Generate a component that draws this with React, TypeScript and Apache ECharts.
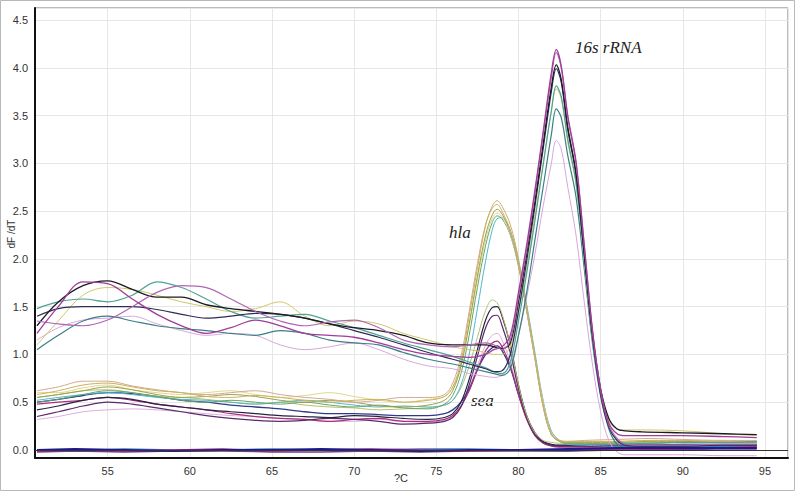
import React, { useEffect, useRef } from "react";
import * as echarts from "echarts";

// Temperature grids (°C)
const xHigh = [50.7, 52, 53.5, 55, 56.5, 58, 59.5, 61, 62.5, 64, 65.5, 67, 68.5, 70, 71.5, 73, 74.5, 76, 77, 78, 78.5, 79, 79.5, 80, 80.5, 81, 81.5, 82, 82.3, 82.6, 83, 83.5, 84, 84.5, 85, 85.5, 86, 86.5, 87.5, 90, 92.5, 94.5];
const xLow = [50.7, 52, 53.5, 55, 56.5, 58, 59.5, 61, 62.5, 64, 65.5, 67, 68.5, 70, 71.5, 73, 74.5, 75.5, 76, 76.5, 77, 77.5, 78, 78.4, 78.7, 79, 79.5, 80, 80.5, 81, 81.5, 82, 82.5, 83, 84, 86, 88, 90, 92.5, 94.5];
const xZero = [50.7, 53, 56, 59, 62, 65, 68, 71, 74, 77, 80, 83, 86, 89, 92, 94.5];

// 16s rRNA curves (dF/dT)
const s16a = [1.22, 1.5, 1.76, 1.74, 1.58, 1.42, 1.3, 1.22, 1.28, 1.36, 1.3, 1.22, 1.2, 1.18, 1.12, 1.05, 1.0, 0.98, 0.97, 1.0, 1.05, 1.08, 1.2, 1.65, 2.15, 2.72, 3.33, 3.95, 4.19, 4.02, 3.5, 3.02, 2.15, 1.26, 0.63, 0.28, 0.17, 0.15, 0.15, 0.15, 0.14, 0.13];
const s16b = [1.35, 1.32, 1.3, 1.36, 1.5, 1.65, 1.72, 1.7, 1.58, 1.45, 1.35, 1.3, 1.34, 1.36, 1.28, 1.15, 1.1, 1.08, 1.1, 1.12, 1.1, 1.05, 1.15, 1.6, 2.1, 2.68, 3.3, 3.9, 4.16, 4.0, 3.48, 3.0, 2.14, 1.25, 0.62, 0.26, 0.12, 0.06, 0.05, 0.05, 0.06, 0.06];
const s16c = [1.3, 1.55, 1.72, 1.77, 1.68, 1.6, 1.6, 1.52, 1.48, 1.45, 1.42, 1.38, 1.32, 1.28, 1.25, 1.2, 1.12, 1.1, 1.1, 1.1, 1.08, 1.06, 1.12, 1.55, 2.05, 2.6, 3.2, 3.8, 4.03, 3.88, 3.38, 2.9, 2.06, 1.22, 0.64, 0.33, 0.22, 0.2, 0.19, 0.18, 0.17, 0.16];
const s16d = [1.4, 1.48, 1.5, 1.5, 1.5, 1.47, 1.42, 1.38, 1.4, 1.43, 1.42, 1.38, 1.32, 1.25, 1.18, 1.1, 1.02, 0.95, 0.9, 0.85, 0.82, 0.83, 1.0, 1.45, 1.98, 2.55, 3.15, 3.75, 3.99, 3.85, 3.35, 2.88, 2.05, 1.2, 0.58, 0.24, 0.1, 0.05, 0.04, 0.04, 0.05, 0.05];
const s16e = [1.48, 1.55, 1.58, 1.55, 1.62, 1.76, 1.7, 1.58, 1.45, 1.38, 1.4, 1.42, 1.35, 1.28, 1.2, 1.12, 1.05, 0.98, 0.92, 0.86, 0.82, 0.8, 0.92, 1.35, 1.85, 2.4, 2.98, 3.55, 3.81, 3.7, 3.25, 2.8, 2.0, 1.18, 0.6, 0.25, 0.1, 0.07, 0.07, 0.08, 0.08, 0.09];
const s16f = [1.1, 1.35, 1.62, 1.7, 1.68, 1.62, 1.55, 1.5, 1.45, 1.48, 1.55, 1.4, 1.3, 1.35, 1.32, 1.22, 1.15, 1.08, 1.05, 1.02, 1.0, 1.0, 1.08, 1.45, 1.9, 2.45, 3.0, 3.55, 3.78, 3.68, 3.22, 2.78, 1.98, 1.18, 0.62, 0.3, 0.22, 0.21, 0.21, 0.2, 0.17, 0.15];
const s16g = [1.05, 1.2, 1.35, 1.4, 1.35, 1.3, 1.27, 1.25, 1.22, 1.2, 1.25, 1.22, 1.15, 1.12, 1.1, 1.02, 0.95, 0.9, 0.86, 0.82, 0.8, 0.78, 0.85, 1.2, 1.65, 2.2, 2.75, 3.3, 3.57, 3.48, 3.08, 2.65, 1.9, 1.12, 0.56, 0.22, 0.06, 0.03, 0.03, 0.04, 0.04, 0.05];
const s16h = [1.15, 1.28, 1.36, 1.38, 1.4, 1.32, 1.25, 1.2, 1.22, 1.2, 1.1, 1.05, 1.08, 1.12, 1.05, 0.95, 0.88, 0.85, 0.8, 0.77, 0.76, 0.78, 0.9, 1.2, 1.6, 2.05, 2.55, 3.0, 3.24, 3.15, 2.75, 2.25, 1.55, 0.9, 0.4, 0.1, -0.02, -0.05, -0.05, -0.05, -0.06, -0.06];

// hla curves
const hlaA = [0.58, 0.62, 0.68, 0.7, 0.66, 0.62, 0.6, 0.56, 0.55, 0.57, 0.55, 0.52, 0.5, 0.52, 0.53, 0.5, 0.52, 0.56, 0.66, 0.92, 1.4, 1.9, 2.35, 2.55, 2.61, 2.55, 2.36, 2.0, 1.5, 0.98, 0.47, 0.17, 0.1, 0.09, 0.09, 0.09, 0.1, 0.1, 0.09, 0.09];
const hlaB = [0.62, 0.66, 0.72, 0.72, 0.67, 0.63, 0.6, 0.58, 0.6, 0.62, 0.58, 0.55, 0.53, 0.5, 0.52, 0.55, 0.55, 0.58, 0.7, 0.98, 1.45, 1.95, 2.36, 2.53, 2.57, 2.5, 2.3, 1.95, 1.45, 0.95, 0.45, 0.16, 0.1, 0.09, 0.1, 0.11, 0.12, 0.11, 0.1, 0.1];
const hlaC = [0.55, 0.58, 0.62, 0.66, 0.63, 0.58, 0.55, 0.56, 0.58, 0.56, 0.52, 0.5, 0.52, 0.5, 0.46, 0.45, 0.47, 0.52, 0.62, 0.88, 1.32, 1.82, 2.25, 2.46, 2.52, 2.47, 2.28, 1.94, 1.46, 0.96, 0.46, 0.16, 0.09, 0.08, 0.08, 0.08, 0.09, 0.09, 0.08, 0.08];
const hlaD = [0.6, 0.6, 0.65, 0.68, 0.63, 0.6, 0.58, 0.6, 0.62, 0.58, 0.55, 0.57, 0.6, 0.56, 0.52, 0.5, 0.53, 0.56, 0.65, 0.88, 1.3, 1.78, 2.2, 2.42, 2.48, 2.44, 2.26, 1.93, 1.47, 0.98, 0.5, 0.18, 0.1, 0.08, 0.08, 0.09, 0.1, 0.1, 0.1, 0.09];
const hlaE = [0.5, 0.53, 0.58, 0.62, 0.6, 0.56, 0.52, 0.5, 0.52, 0.5, 0.48, 0.5, 0.47, 0.45, 0.47, 0.44, 0.43, 0.48, 0.57, 0.8, 1.2, 1.7, 2.14, 2.38, 2.45, 2.42, 2.25, 1.92, 1.46, 0.97, 0.48, 0.17, 0.09, 0.07, 0.07, 0.07, 0.07, 0.08, 0.08, 0.08];
const hlaF = [0.52, 0.55, 0.58, 0.6, 0.58, 0.55, 0.53, 0.52, 0.5, 0.48, 0.5, 0.52, 0.5, 0.47, 0.45, 0.46, 0.45, 0.47, 0.52, 0.68, 1.0, 1.48, 1.98, 2.3, 2.42, 2.43, 2.3, 1.98, 1.52, 1.02, 0.52, 0.2, 0.1, 0.06, 0.05, 0.04, 0.05, 0.05, 0.05, 0.05];

// sea curves
const seaA = [0.55, 0.58, 0.62, 0.63, 0.6, 0.56, 0.55, 0.53, 0.5, 0.48, 0.5, 0.47, 0.45, 0.44, 0.42, 0.43, 0.44, 0.47, 0.52, 0.65, 0.88, 1.18, 1.46, 1.57, 1.54, 1.42, 1.1, 0.68, 0.36, 0.18, 0.1, 0.08, 0.07, 0.07, 0.07, 0.07, 0.08, 0.08, 0.08, 0.08];
const seaB = [0.42, 0.46, 0.52, 0.55, 0.53, 0.48, 0.45, 0.42, 0.4, 0.38, 0.36, 0.35, 0.34, 0.36, 0.35, 0.33, 0.32, 0.34, 0.38, 0.5, 0.74, 1.05, 1.36, 1.49, 1.5, 1.4, 1.1, 0.68, 0.36, 0.18, 0.09, 0.06, 0.05, 0.05, 0.05, 0.05, 0.05, 0.06, 0.06, 0.06];
const seaC = [0.35, 0.4, 0.46, 0.5, 0.48, 0.44, 0.4, 0.36, 0.33, 0.31, 0.3, 0.31, 0.33, 0.32, 0.3, 0.27, 0.28, 0.3, 0.34, 0.45, 0.68, 0.98, 1.28, 1.4, 1.41, 1.3, 1.02, 0.64, 0.34, 0.16, 0.08, 0.05, 0.04, 0.04, 0.04, 0.04, 0.04, 0.05, 0.05, 0.05];
const seaD = [0.32, 0.35, 0.4, 0.42, 0.43, 0.42, 0.4, 0.38, 0.36, 0.35, 0.33, 0.32, 0.3, 0.3, 0.32, 0.3, 0.29, 0.31, 0.35, 0.45, 0.64, 0.88, 1.1, 1.2, 1.22, 1.15, 0.92, 0.6, 0.33, 0.16, 0.08, 0.06, 0.05, 0.05, 0.05, 0.05, 0.06, 0.06, 0.06, 0.06];
const seaE = [0.48, 0.5, 0.52, 0.55, 0.52, 0.48, 0.45, 0.42, 0.38, 0.35, 0.33, 0.32, 0.3, 0.32, 0.33, 0.3, 0.3, 0.32, 0.36, 0.46, 0.62, 0.84, 1.04, 1.12, 1.14, 1.08, 0.88, 0.58, 0.32, 0.15, 0.07, 0.04, 0.03, 0.03, 0.03, 0.03, 0.03, 0.04, 0.04, 0.04];
const seaF = [0.5, 0.53, 0.57, 0.6, 0.59, 0.56, 0.52, 0.5, 0.47, 0.45, 0.43, 0.4, 0.38, 0.38, 0.37, 0.36, 0.36, 0.38, 0.42, 0.5, 0.64, 0.84, 1.0, 1.07, 1.09, 1.04, 0.86, 0.58, 0.33, 0.16, 0.08, 0.05, 0.04, 0.04, 0.04, 0.04, 0.05, 0.05, 0.05, 0.05];

// negative controls
const zeroA = [0, 0.01, 0, -0.01, 0, 0, 0.01, 0, -0.01, 0, 0, 0.01, 0.02, 0.02, 0.02, 0.02];
const zeroB = [-0.01, 0, -0.01, 0, 0.01, -0.01, 0, 0.01, 0, -0.01, 0, 0, 0.01, 0.01, 0.02, 0.03];
const zeroC = [0, -0.01, 0.01, 0, 0, 0.01, 0, 0, 0.01, 0.01, 0, -0.01, 0.02, 0.01, 0.03, 0.02];
const zeroD = [-0.02, -0.01, -0.02, -0.01, -0.01, -0.02, -0.02, -0.01, -0.02, -0.01, -0.01, -0.01, 0, 0, 0.01, 0.01];

const xTickLabels = ["55", "60", "65", "70", "75", "80", "85", "90", "95"];
const yTickLabels = ["0.0", "0.5", "1.0", "1.5", "2.0", "2.5", "3.0", "3.5", "4.0", "4.5"];

const groups: { xs: number[]; ys: number[]; color: string; w: number }[] = [
  { xs: xLow, ys: seaD, color: "#dcaedc", w: 1 },
  { xs: xLow, ys: seaF, color: "#2e3a8c", w: 1.3 },
  { xs: xLow, ys: seaE, color: "#a8307e", w: 1.2 },
  { xs: xLow, ys: seaC, color: "#5c2a6c", w: 1.2 },
  { xs: xLow, ys: seaB, color: "#2a2140", w: 1.2 },
  { xs: xLow, ys: seaA, color: "#b7bf72", w: 1 },
  { xs: xLow, ys: hlaF, color: "#4fb8c8", w: 1 },
  { xs: xLow, ys: hlaE, color: "#64a46a", w: 1 },
  { xs: xLow, ys: hlaD, color: "#e2d68a", w: 1 },
  { xs: xLow, ys: hlaC, color: "#9aa04c", w: 1 },
  { xs: xLow, ys: hlaB, color: "#d4a98e", w: 1 },
  { xs: xLow, ys: hlaA, color: "#c9b25a", w: 1 },
  { xs: xHigh, ys: s16h, color: "#d9a6dc", w: 1 },
  { xs: xHigh, ys: s16g, color: "#3a7f86", w: 1.2 },
  { xs: xHigh, ys: s16f, color: "#cfc86a", w: 1 },
  { xs: xHigh, ys: s16e, color: "#4fa394", w: 1.2 },
  { xs: xHigh, ys: s16d, color: "#2c2c58", w: 1.2 },
  { xs: xHigh, ys: s16c, color: "#1e1a22", w: 1.3 },
  { xs: xHigh, ys: s16b, color: "#b066b4", w: 1.2 },
  { xs: xHigh, ys: s16a, color: "#a03c9a", w: 1.3 },
  { xs: xZero, ys: zeroC, color: "#3a80c0", w: 1.5 },
  { xs: xZero, ys: zeroD, color: "#6a3a9a", w: 1.5 },
  { xs: xZero, ys: zeroB, color: "#a02078", w: 1.5 },
  { xs: xZero, ys: zeroA, color: "#1a1a8a", w: 2 },
];

export default function App() {
  const ref = useRef<HTMLDivElement>(null);
  useEffect(() => {
    if (!ref.current) return;
    const chart = echarts.init(ref.current, undefined, { renderer: "svg" });
    const series: any[] = groups.map((g, i) => ({
      type: "line",
      data: g.xs.map((x, j) => [x, g.ys[j]]),
      showSymbol: false,
      smooth: g.xs === xZero ? false : 0.35,
      lineStyle: { color: g.color, width: g.w },
      z: 2,
      silent: true,
      ...(i === groups.length - 1
        ? {
            markLine: {
              silent: true,
              symbol: "none",
              label: { show: false },
              lineStyle: { color: "#333", width: 1, type: "solid" },
              data: [{ yAxis: 0 }],
            },
          }
        : {}),
    }));
    chart.setOption({
      animation: false,
      backgroundColor: "#ffffff",
      grid: {
        left: 35,
        right: 7,
        top: 8,
        bottom: 33,
        show: true,
        borderColor: "#777",
        borderWidth: 1,
      },
      xAxis: {
        type: "value",
        min: 50.58,
        max: 96.4,
        splitNumber: 9,
        axisLine: { onZero: false, lineStyle: { color: "#111", width: 2 } },
        axisTick: { show: false },
        axisLabel: {
          color: "#333",
          fontSize: 11,
          fontFamily: "Liberation Sans, Arial, sans-serif",
          margin: 7,
          showMinLabel: false,
          showMaxLabel: false,
          formatter: (v: number) => {
            const s = String(Math.round(v));
            return Math.abs(v - Math.round(v)) < 1e-6 && xTickLabels.includes(s) ? s : "";
          },
        },
        splitLine: { show: true, lineStyle: { color: "#e6e6e6", width: 1 } },
      },
      yAxis: {
        type: "value",
        min: -0.084,
        max: 4.626,
        splitNumber: 9,
        axisLine: { onZero: false, lineStyle: { color: "#111", width: 2 } },
        axisTick: { show: false },
        axisLabel: {
          color: "#333",
          fontSize: 11,
          fontFamily: "Liberation Sans, Arial, sans-serif",
          margin: 7,
          showMinLabel: false,
          showMaxLabel: false,
          formatter: (v: number) => {
            const s = v.toFixed(1);
            return Math.abs(v * 2 - Math.round(v * 2)) < 1e-6 && yTickLabels.includes(s) ? s : "";
          },
        },
        splitLine: { show: true, lineStyle: { color: "#e6e6e6", width: 1 } },
      },
      graphic: [
        {
          type: "text",
          x: 11,
          y: 234,
          rotation: Math.PI / 2,
          style: {
            text: "dF /dT",
            fill: "#333",
            font: "10px 'Liberation Sans', Arial, sans-serif",
            align: "center",
            verticalAlign: "middle",
          },
        },
        {
          type: "text",
          x: 401,
          y: 478,
          style: {
            text: "?C",
            fill: "#333",
            font: "11px 'Liberation Sans', Arial, sans-serif",
            align: "center",
            verticalAlign: "middle",
          },
        },
        {
          type: "text",
          x: 575,
          y: 47,
          style: {
            text: "16s rRNA",
            fill: "#222",
            font: "italic 17px 'Liberation Serif', 'Times New Roman', serif",
            align: "left",
            verticalAlign: "middle",
          },
        },
        {
          type: "text",
          x: 449,
          y: 232,
          style: {
            text: "hla",
            fill: "#222",
            font: "italic 17px 'Liberation Serif', 'Times New Roman', serif",
            align: "left",
            verticalAlign: "middle",
          },
        },
        {
          type: "text",
          x: 471,
          y: 400,
          style: {
            text: "sea",
            fill: "#222",
            font: "italic 17px 'Liberation Serif', 'Times New Roman', serif",
            align: "left",
            verticalAlign: "middle",
          },
        },
        {
          type: "rect",
          shape: { x: 0.5, y: 0.5, width: 794, height: 490 },
          style: { fill: "none", stroke: "#b8b8b8", lineWidth: 1 },
          silent: true,
        },
      ],
      series,
    });
    return () => chart.dispose();
  }, []);
  return (
    <div
      ref={ref}
      style={{ position: "absolute", left: 0, top: 0, width: 795, height: 491 }}
    />
  );
}
